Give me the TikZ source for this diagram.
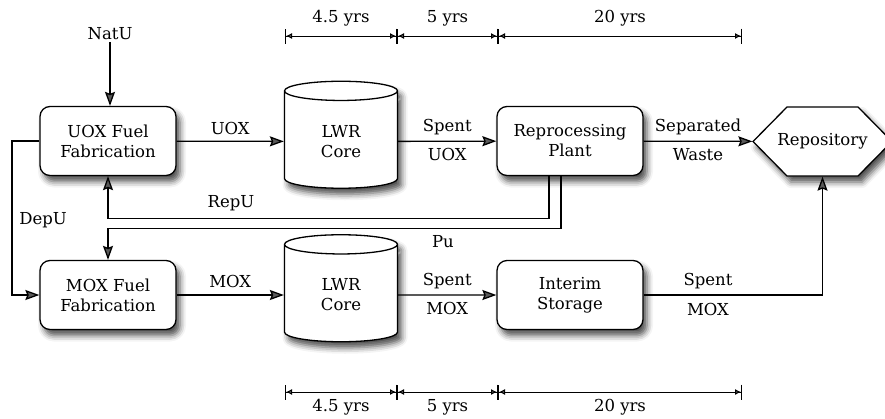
\documentclass[tikz,border=0pt]{standalone}
\usepackage{fontspec}
\setmainfont{DejaVu Serif}
\usetikzlibrary{arrows.meta,shapes.geometric,shadows.blur,calc}
\begin{document}
\begin{tikzpicture}[x=1pt,y=-1pt,
  font=\fontsize{16.5}{20}\selectfont,
  line width=1.3pt,
  flow/.style={-{Stealth[length=14pt,width=10pt,inset=2pt]}},
  softshadow/.style={blur shadow={shadow xshift=4pt,shadow yshift=-6pt,shadow blur radius=6pt,shadow opacity=70}},
  proc/.style={draw,rounded corners=10pt,fill=white,minimum height=69pt,align=center,softshadow},
  core/.style={draw,fill=white,cylinder,shape border rotate=90,aspect=0.41,minimum width=113pt,minimum height=107pt,align=center,softshadow},
  span/.style={line width=1pt,{Bar[width=15pt]Latex[length=6pt,width=6pt]}-{Latex[length=6pt,width=6pt]Bar[width=15pt]}},
  lbl/.style={inner sep=1pt}
]
\useasboundingbox (0,0) rectangle (885,418);

% hexagonal repository outline (drawn first so its label sits on top)
\coordinate (rc) at (822.5,141.5);
\draw[fill=white,softshadow] ($(rc)+(-69.5,0)$) -- ($(rc)+(-35.5,-34.5)$) -- ($(rc)+(35.5,-34.5)$)
  -- ($(rc)+(69.5,0)$) -- ($(rc)+(35.5,34.5)$) -- ($(rc)+(-35.5,34.5)$) -- cycle;
\node[minimum width=139pt,minimum height=69pt,inner sep=0pt] (repo) at (rc) {Repository};

% process nodes
\node[proc,minimum width=136pt] (uoxf) at (108,141) {UOX Fuel\\Fabrication};
\node[proc,minimum width=136pt] (moxf) at (108,295) {MOX Fuel\\Fabrication};
\node[core] (core1) at (341,141.5) {LWR\\Core};
\node[core] (core2) at (341,295) {LWR\\Core};
\node[proc,minimum width=146pt] (repro) at (570,141) {Reprocessing\\Plant};
\node[proc,minimum width=146pt] (interim) at (570,295) {Interim\\Storage};

\node[lbl] (natu) at (110,34) {NatU};

% main flows
\draw[flow] (natu.south) -- (natu.south |- uoxf.north);
\draw[flow] (uoxf) -- node[above=3pt] {UOX} (core1);
\draw[flow] (core1) -- node[above=2pt] {Spent} node[below=3pt] {UOX} (repro);
\draw[flow] (repro) -- node[above=2pt] {Separated} node[below=3pt] {Waste} (repo);
\draw[flow] (moxf) -- node[above=3pt] {MOX} (core2);
\draw[flow] (core2) -- node[above=2pt] {Spent} node[below=3pt] {MOX} (interim);
\draw[flow] (interim.east) -| (repo.south);
\node[lbl] (smox1) at (708,281) {Spent};
\node[lbl] (smox2) at (708,309) {MOX};

% recycle loops
\coordinate (depx) at (12,0);
\draw[flow] (uoxf.west) -- (uoxf.west -| depx) |- (moxf.west);
\node[lbl] (depu) at (43,220) {DepU};
\draw[flow] ([xshift=-21pt]repro.south) -- ++(0,42) -| (uoxf.south);
\node[lbl] (repu) at (231,203) {RepU};
\draw[flow] ([xshift=-9pt]repro.south) -- ++(0,52) -| (moxf.north);
\node[lbl] (pu) at (443,242) {Pu};

% residence times, top
\coordinate (ta) at (285,36);
\coordinate (tb) at (397,36);
\coordinate (tc) at (498,36);
\coordinate (td) at (742,36);
\draw[span] (ta) -- node[above=6pt] {4.5 yrs} (tb);
\draw[span] (tb) -- node[above=6pt] {5 yrs} (tc);
\draw[span] (tc) -- node[above=6pt] {20 yrs} (td);

% residence times, bottom
\coordinate (ba) at (285,392);
\coordinate (bb) at (397,392);
\coordinate (bc) at (498,392);
\coordinate (bd) at (742,392);
\draw[span] (ba) -- node[lbl,below=6pt] {4.5 yrs} (bb);
\draw[span] (bb) -- node[lbl,below=6pt] {5 yrs} (bc);
\draw[span] (bc) -- node[lbl,below=6pt] {20 yrs} (bd);
\end{tikzpicture}
\end{document}
